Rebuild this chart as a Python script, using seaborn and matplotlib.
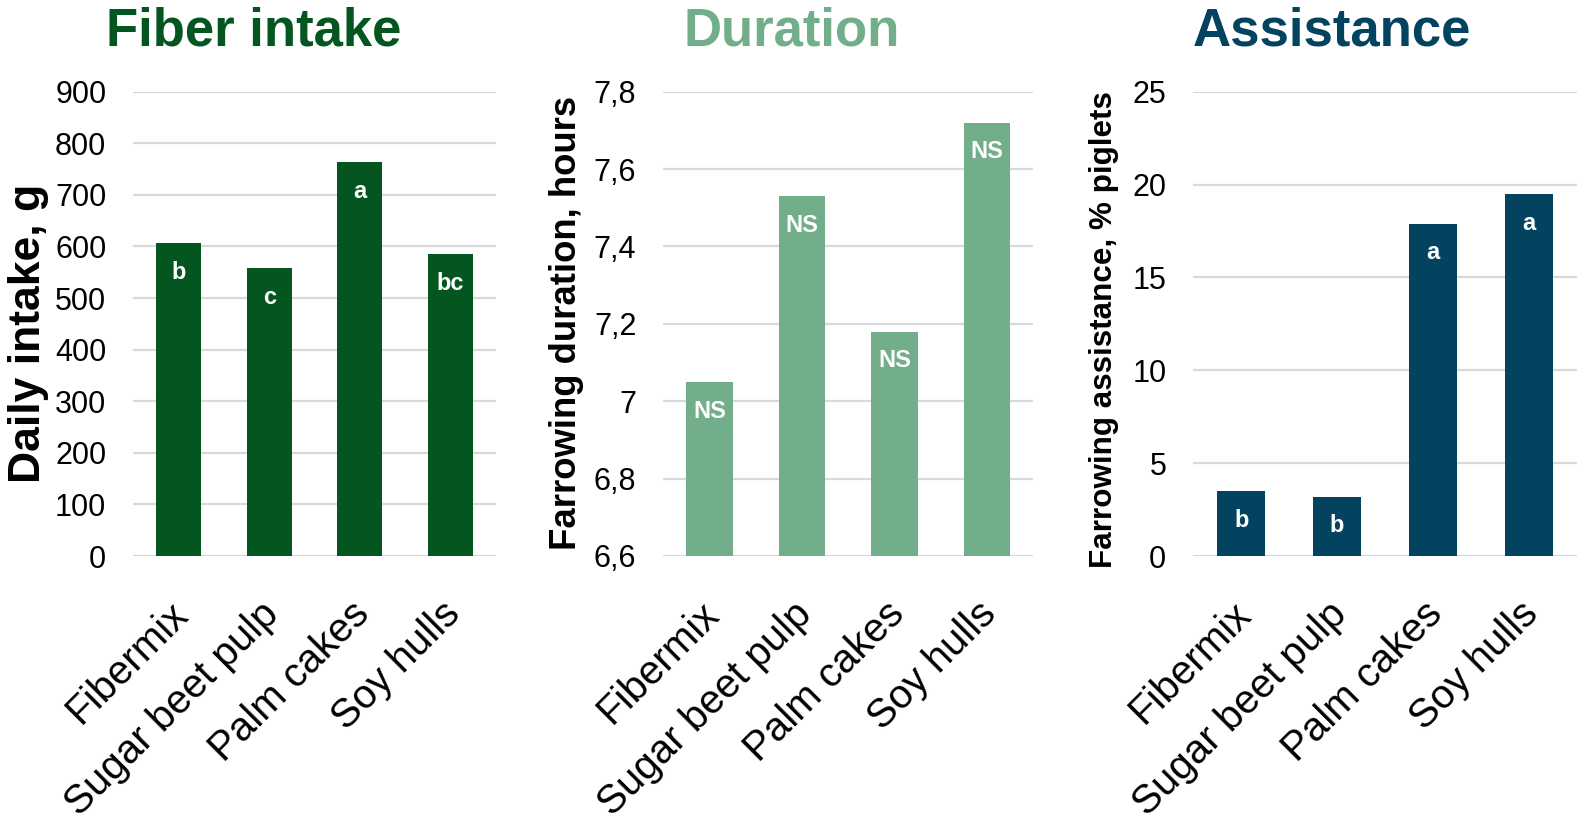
import seaborn as sns
import pandas as pd
import matplotlib.pyplot as plt
from matplotlib.transforms import ScaledTranslation
from matplotlib.ticker import FuncFormatter, MultipleLocator

# data
feeds = ['Fibermix', 'Sugar beet pulp', 'Palm cakes', 'Soy hulls']
intake = [606, 558, 764, 585]
intake_letters = ['b', 'c', 'a', 'bc']
duration = [7.05, 7.53, 7.18, 7.72]
duration_letters = ['NS', 'NS', 'NS', 'NS']
assistance = [3.5, 3.2, 17.9, 19.5]
assistance_letters = ['b', 'b', 'a', 'a']

titles = ['Fiber intake', 'Duration', 'Assistance']
ylabels = ['Daily intake, g', 'Farrowing duration, hours', 'Farrowing assistance, % piglets']
colors = ['#03561f', '#71ae89', '#03435f']

sns.set_style('white')
plt.rcParams['font.family'] = ['Liberation Sans', 'DejaVu Sans']
for k in ['text.color', 'axes.labelcolor', 'xtick.color', 'ytick.color']:
    plt.rcParams[k] = 'black'

W, H = 1594, 823
fig = plt.figure(figsize=(W / 100, H / 100), dpi=100)

# axes boxes in pixels: left, right
boxes = [(133.3, 495.7), (663.3, 1033.3), (1193.3, 1576.6)]
top_px, bot_px = 91.7, 556

panels = [
    (intake, intake_letters, (0, 900), 100),
    (duration, duration_letters, (6.6, 7.8), 0.2),
    (assistance, assistance_letters, (0, 25), 5),
]

# title centre x, ylabel (x, y, size)
title_x = [254, 791.5, 1331.7]
ylab_pos = [(28.5, 333, 32), (567, 322.5, 26.3), (1104, 330, 22.6)]


def comma_fmt(v, pos):
    s = '{:g}'.format(round(v, 2))
    return s.replace('.', ',')


shift = ScaledTranslation(-0.10, 0, fig.dpi_scale_trans)

for i, (vals, letters, ylim, step) in enumerate(panels):
    l, r = boxes[i]
    ax = fig.add_axes([l / W, 1 - bot_px / H, (r - l) / W, (bot_px - top_px) / H])
    df = pd.DataFrame({'feed': feeds, 'value': vals})
    sns.barplot(data=df, x='feed', y='value', color=colors[i], saturation=1,
                width=0.5, errorbar=None, linewidth=0, ax=ax)
    ax.set_ylim(*ylim)
    ax.set_xlim(-0.5, 3.5)
    ax.yaxis.set_major_locator(MultipleLocator(step))
    if i == 1:
        ax.yaxis.set_major_formatter(FuncFormatter(comma_fmt))
    ax.yaxis.grid(True, color='#d9d9d9', linewidth=1.6)
    ax.set_axisbelow(True)
    for s in ax.spines.values():
        s.set_visible(False)
    ax.set_xlabel('')
    ax.set_ylabel('')
    ax.tick_params(axis='y', length=0, pad=19.4, labelsize=22)
    ax.tick_params(axis='x', length=0, pad=28, labelsize=29)
    for lab in ax.get_xticklabels():
        lab.set_rotation(45)
        lab.set_ha('right')
        lab.set_va('top')
        lab.set_rotation_mode('anchor')
        lab.set_transform(lab.get_transform() + shift)

    for j, (v, t) in enumerate(zip(vals, letters)):
        ax.annotate(t, xy=(j, v), xytext=(0, -21), textcoords='offset points',
                    ha='center', va='center', color='white', fontsize=17,
                    fontweight='bold')

    fig.text(title_x[i] / W, 1 - 45 / H, titles[i], ha='center', va='baseline',
             fontsize=38, fontweight='bold', color=colors[i])
    lx, ly, fs = ylab_pos[i]
    fig.text(lx / W, 1 - ly / H, ylabels[i], rotation=90, ha='center', va='center',
             fontsize=fs, fontweight='bold')

fig.savefig('out.png', dpi=100)
